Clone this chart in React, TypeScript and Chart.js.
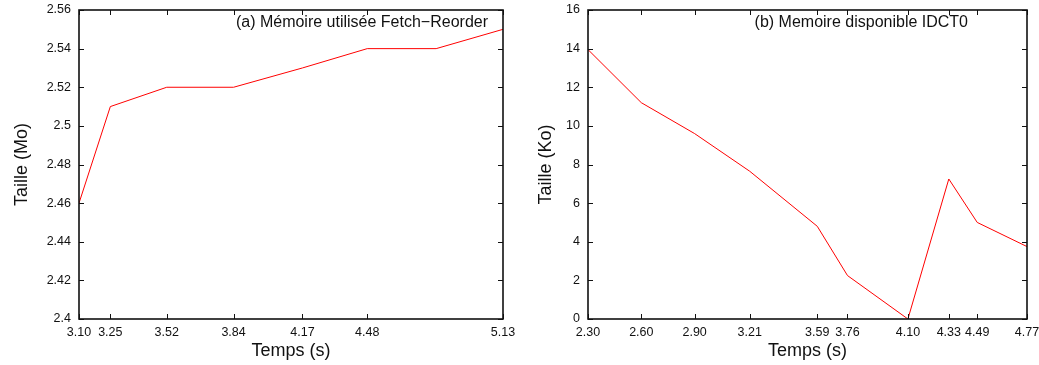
import React, { useEffect, useRef } from "react";
import { Chart, registerables } from "chart.js";

Chart.register(...registerables);

// Panel (a): Mémoire utilisée Fetch−Reorder
const timeA = [3.10, 3.25, 3.52, 3.84, 4.17, 4.48, 4.81, 5.13];
const sizeA = [2.46, 2.51, 2.52, 2.52, 2.53, 2.54, 2.54, 2.55];
const xTicksA = [3.10, 3.25, 3.52, 3.84, 4.17, 4.48, 5.13];

// Panel (b): Memoire disponible IDCT0
const timeB = [2.30, 2.60, 2.90, 3.21, 3.59, 3.76, 4.10, 4.33, 4.49, 4.77];
const sizeB = [13.95, 11.2, 9.6, 7.65, 4.8, 2.25, 0, 7.25, 5.0, 3.75];
const xTicksB = [2.30, 2.60, 2.90, 3.21, 3.59, 3.76, 4.10, 4.33, 4.49, 4.77];

const FONT = "'Liberation Sans', Arial, sans-serif";

type PanelCfg = {
  xs: number[];
  ys: number[];
  xTicks: number[];
  xMin: number;
  xMax: number;
  yMin: number;
  yMax: number;
  yStep: number;
  yTitle: string;
  label: string;
  labelRightOffset: number;
  yAxisWidth: number;
  padRight: number;
  padTop: number;
  yTitlePad: number;
};

const framePlugin = {
  id: "gnuframe",
  afterDatasetsDraw(chart: any, _args: any, opts: any) {
    const { ctx, chartArea } = chart;
    const { left, right, top, bottom } = chartArea;
    const xs = chart.scales.x;
    const ys = chart.scales.y;
    const tl = 5;
    ctx.save();
    ctx.strokeStyle = "#111";
    ctx.lineWidth = 1;
    ctx.beginPath();
    xs.ticks.forEach((t: any) => {
      const px = Math.round(xs.getPixelForValue(t.value)) + 0.5;
      ctx.moveTo(px, bottom);
      ctx.lineTo(px, bottom - tl);
      ctx.moveTo(px, top);
      ctx.lineTo(px, top + tl);
    });
    ys.ticks.forEach((t: any) => {
      const py = Math.round(ys.getPixelForValue(t.value)) + 0.5;
      ctx.moveTo(left, py);
      ctx.lineTo(left + tl, py);
      ctx.moveTo(right, py);
      ctx.lineTo(right - tl, py);
    });
    ctx.stroke();
    ctx.lineWidth = 1.6;
    ctx.strokeStyle = "#111";
    ctx.strokeRect(left, top, right - left, bottom - top);
    // panel label
    ctx.fillStyle = "#111";
    ctx.font = `16px ${FONT}`;
    ctx.textAlign = "right";
    ctx.textBaseline = "middle";
    ctx.fillText(opts.text, right - opts.rightOffset, top + 13);
    ctx.restore();
  },
};

function Panel({ cfg, left, width }: { cfg: PanelCfg; left: number; width: number }) {
  const ref = useRef<HTMLCanvasElement | null>(null);
  useEffect(() => {
    if (!ref.current) return;
    const chart = new Chart(ref.current, {
      type: "line",
      data: {
        datasets: [
          {
            data: cfg.xs.map((x, i) => ({ x, y: cfg.ys[i] })),
            borderColor: "#ff0000",
            borderWidth: 1,
            pointRadius: 0,
            tension: 0,
            fill: false,
          },
        ],
      },
      options: {
        animation: false,
        responsive: false,
        maintainAspectRatio: false,
        events: [],
        layout: { padding: { left: 0, right: cfg.padRight, top: cfg.padTop, bottom: 0 } },
        plugins: {
          legend: { display: false },
          tooltip: { enabled: false },
          gnuframe: { text: cfg.label, rightOffset: cfg.labelRightOffset },
        } as any,
        scales: {
          x: {
            type: "linear",
            min: cfg.xMin,
            max: cfg.xMax,
            afterBuildTicks: (s: any) => {
              s.ticks = cfg.xTicks.map((v) => ({ value: v }));
            },
            afterFit: (s: any) => {
              s.height = 46;
              s.paddingLeft = 0;
              s.paddingRight = 0;
            },
            grid: { display: false, drawTicks: false },
            border: { display: false },
            ticks: {
              autoSkip: false,
              maxRotation: 0,
              padding: 6,
              color: "#111",
              font: { family: FONT, size: 12.5 },
              callback: (v: any) => Number(v).toFixed(2),
            },
            title: {
              display: true,
              text: "Temps (s)",
              color: "#111",
              font: { family: FONT, size: 18 },
              padding: { top: 0, bottom: 3 },
            },
          },
          y: {
            type: "linear",
            min: cfg.yMin,
            max: cfg.yMax,
            afterFit: (s: any) => {
              s.width = cfg.yAxisWidth;
              s.paddingTop = 0;
              s.paddingBottom = 0;
            },
            grid: { display: false, drawTicks: false },
            border: { display: false },
            ticks: {
              stepSize: cfg.yStep,
              padding: 8,
              color: "#111",
              font: { family: FONT, size: 12.5 },
              callback: (v: any) => String(Number(Number(v).toFixed(2))),
            },
            title: {
              display: true,
              text: cfg.yTitle,
              color: "#111",
              font: { family: FONT, size: 18 },
              padding: { top: cfg.yTitlePad, bottom: 0 },
            },
          },
        },
      },
      plugins: [framePlugin],
    });
    return () => chart.destroy();
  }, [cfg]);
  return (
    <canvas
      ref={ref}
      width={width}
      height={365}
      style={{ position: "absolute", left, top: 0, width, height: 365 }}
    />
  );
}

const cfgA: PanelCfg = {
  xs: timeA,
  ys: sizeA,
  xTicks: xTicksA,
  xMin: 3.10,
  xMax: 5.13,
  yMin: 2.4,
  yMax: 2.56,
  yStep: 0.02,
  yTitle: "Taille (Mo)",
  label: "(a) Mémoire utilisée Fetch−Reorder",
  labelRightOffset: 15,
  yAxisWidth: 79,
  padRight: 17,
  padTop: 10,
  yTitlePad: 11,
};

const cfgB: PanelCfg = {
  xs: timeB,
  ys: sizeB,
  xTicks: xTicksB,
  xMin: 2.30,
  xMax: 4.77,
  yMin: 0,
  yMax: 16,
  yStep: 2,
  yTitle: "Taille (Ko)",
  label: "(b) Memoire disponible IDCT0",
  labelRightOffset: 59,
  yAxisWidth: 68,
  padRight: 33,
  padTop: 10,
  yTitlePad: 15,
};

export default function App() {
  return (
    <div style={{ position: "absolute", left: 0, top: 0, width: 1039, height: 365, background: "#fff", overflow: "hidden" }}>
      <Panel cfg={cfgA} left={0} width={520} />
      <Panel cfg={cfgB} left={520} width={540} />
    </div>
  );
}
